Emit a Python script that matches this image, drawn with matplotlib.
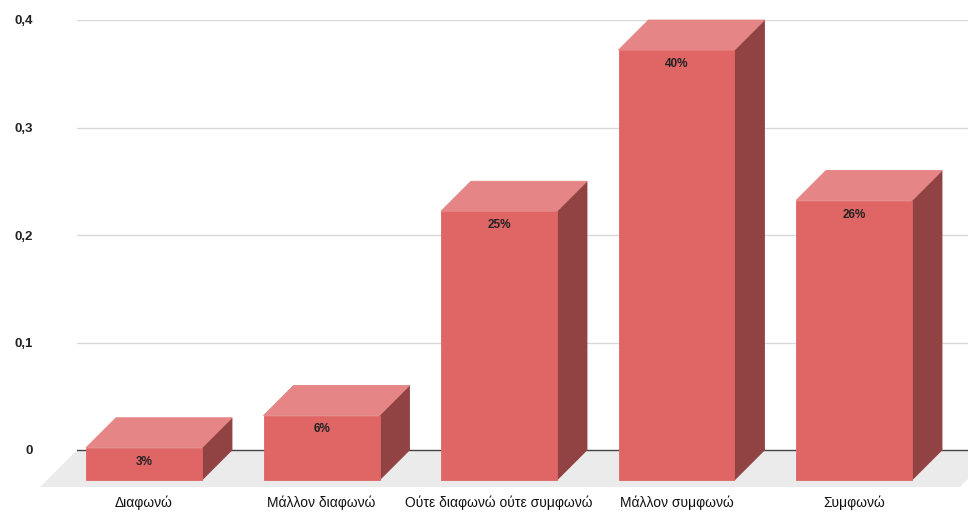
import matplotlib
matplotlib.use('Agg')
import matplotlib.pyplot as plt
from matplotlib.patches import Polygon

plt.rcParams['font.family'] = ['Liberation Sans', 'DejaVu Sans']

categories = ['Διαφωνώ', 'Μάλλον διαφωνώ', 'Ούτε διαφωνώ ούτε συμφωνώ', 'Μάλλον συμφωνώ', 'Συμφωνώ']
values = [0.03, 0.06, 0.25, 0.40, 0.26]
pct_labels = ['3%', '6%', '25%', '40%', '26%']
yticks = [0, 0.1, 0.2, 0.3, 0.4]
ytick_labels = ['0', '0,1', '0,2', '0,3', '0,4']

front_col = '#e06666'
top_col = '#e58585'
side_col = '#914242'
floor_col = '#ebebeb'

W, H = 968, 514
fig = plt.figure(figsize=(W / 100, H / 100), dpi=100)
ax_left, ax_right, ax_top, ax_bot = 77, 968, 20, 493
ax = fig.add_axes([ax_left / W, 1 - ax_bot / H, (ax_right - ax_left) / W, (ax_bot - ax_top) / H])

# pixel scale helpers
px_x = 177.5          # pixels per category
px_y = 1075.0         # pixels per 1.0 of value
x0 = -(144 - ax_left) / px_x
x1 = x0 + (ax_right - ax_left) / px_x
ax.set_xlim(x0, x1)
ax.set_ylim(-(ax_bot - 450) / px_y, 0.4)

dx = 30 / px_x
dy = 30 / px_y
w = 116 / px_x

# floor
fd = 37
fr = x1 + 29 / px_x
floor = Polygon([(x0, 0), (fr, 0), (fr - fd / px_x, -fd / px_y), (x0 - fd / px_x, -fd / px_y)],
                closed=True, facecolor=floor_col, edgecolor='none', clip_on=False, zorder=1)
ax.add_patch(floor)

# grid
for t in yticks[1:]:
    ax.axhline(t, color='#d9d9d9', lw=1, zorder=0.5)
ax.axhline(0, color='#444444', lw=1, zorder=2)

for i, v in enumerate(values):
    l, r = i - w / 2, i + w / 2
    front = Polygon([(l, -dy), (r, -dy), (r, v - dy), (l, v - dy)], color=front_col, lw=0.6, zorder=4)
    top = Polygon([(l, v - dy), (r, v - dy), (r + dx, v), (l + dx, v)], color=top_col, lw=0.6, zorder=4)
    side = Polygon([(r, -dy), (r + dx, 0), (r + dx, v), (r, v - dy)], color=side_col, lw=0.6, zorder=3.9)
    for p in (front, top, side):
        p.set_clip_on(False)
        ax.add_patch(p)
    ax.text(i, v - dy - 14 / px_y, pct_labels[i], ha='center', va='center', fontsize=8.5,
            fontweight='bold', color='#222222', zorder=5)

ax.set_yticks(yticks)
ax.set_yticklabels(ytick_labels, fontsize=9.5, fontweight='bold', color='#222222')
ax.set_xticks(range(len(categories)))
ax.set_xticklabels(categories, fontsize=10, color='#111111')
ax.tick_params(axis='y', length=0, pad=32)
ax.tick_params(axis='x', length=0, pad=1.5)
for s in ax.spines.values():
    s.set_visible(False)

fig.savefig('out.png', dpi=100)
